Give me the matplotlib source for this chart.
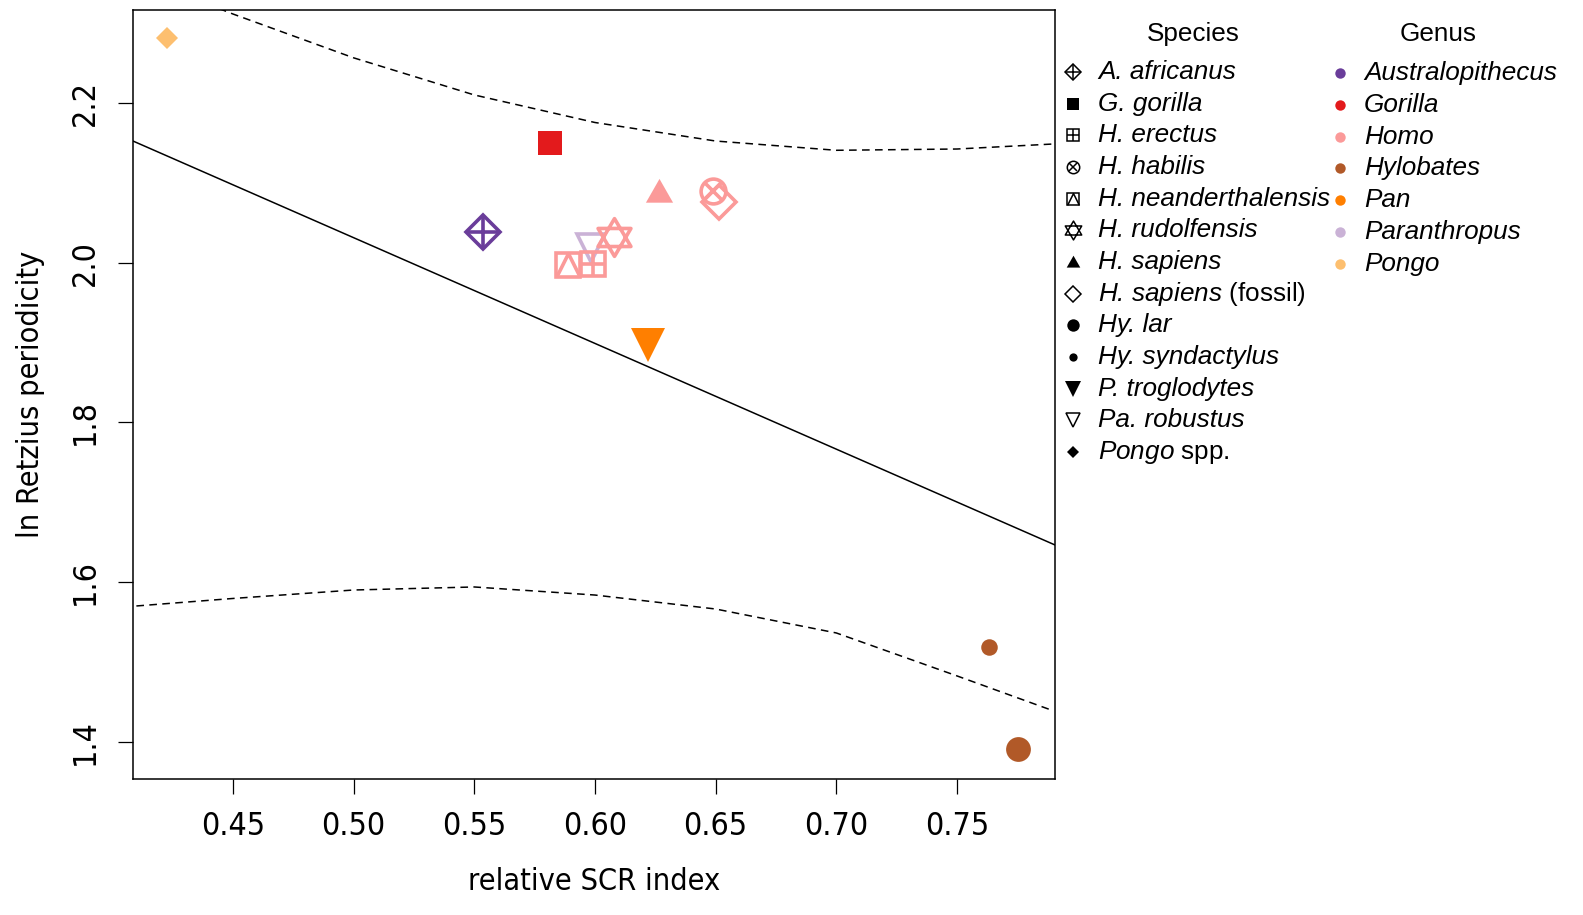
import matplotlib
matplotlib.use("Agg")
import matplotlib.pyplot as plt
from matplotlib import font_manager
from matplotlib.path import Path
import numpy as np

# fonts: the axis text in the original is a narrow sans, use one if there is one
plt.rcParams['font.family'] = ['Liberation Sans', 'DejaVu Sans']
plt.rcParams['mathtext.fontset'] = 'custom'
plt.rcParams['mathtext.rm'] = 'Liberation Sans'
plt.rcParams['mathtext.it'] = 'Liberation Sans:italic'


def find_narrow():
    entries = font_manager.fontManager.ttflist
    for want in ["Liberation Sans Narrow", "Arial Narrow", "DejaVu Sans Condensed"]:
        for f in entries:
            if f.name == want and f.style == 'normal' and f.weight in (400, 'normal', 'regular'):
                return f.fname
    for f in entries:
        if f.style == 'normal' and str(f.stretch) in ('condensed', 'semi-condensed', '600', '700') \
                and 'Bold' not in f.fname and 'Oblique' not in f.fname:
            return f.fname
    for f in entries:
        low = f.fname.lower()
        if ('narrow' in low or 'condensed' in low) and 'bold' not in low and 'oblique' not in low \
                and 'italic' not in low:
            return f.fname
    return None


narrow_file = find_narrow()
if narrow_file:
    def axis_font(size):
        return font_manager.FontProperties(fname=narrow_file, size=size)
    TICK_SIZE, LAB_SIZE = 23, 22
else:
    def axis_font(size):
        return font_manager.FontProperties(family='Liberation Sans', size=size)
    TICK_SIZE, LAB_SIZE = 19, 19

# data
species = ["A. africanus", "G. gorilla", "H. erectus", "H. habilis", "H. neanderthalensis",
           "H. rudolfensis", "H. sapiens", "H. sapiens (fossil)", "Hy. lar", "Hy. syndactylus",
           "P. troglodytes", "Pa. robustus", "Pongo spp."]
species_genus = ["Australopithecus", "Gorilla", "Homo", "Homo", "Homo", "Homo", "Homo", "Homo",
                 "Hylobates", "Hylobates", "Pan", "Paranthropus", "Pongo"]
scr_index = [0.5535, 0.5813, 0.5990, 0.6487, 0.5887, 0.6077, 0.6264, 0.6512,
             0.7754, 0.7634, 0.6218, 0.5982, 0.4227]
ln_retzius = [2.0384, 2.1499, 1.9984, 2.0898, 1.9971, 2.0322, 2.0890, 2.0760,
              1.3910, 1.5187, 1.8970, 2.0184, 2.2814]
pch = [9, 15, 12, 13, 14, 11, 17, 5, 16, 20, 25, 6, 18]
# drawing order of the points (Pa. robustus sits under the Homo symbols)
draw_order = [11, 0, 1, 2, 4, 5, 6, 7, 3, 8, 9, 10, 12]

genera = ["Australopithecus", "Gorilla", "Homo", "Hylobates", "Pan", "Paranthropus", "Pongo"]
genus_colors = ["#6A3D9A", "#E31A1C", "#FB9A99", "#B15928", "#FF7F00", "#CAB2D6", "#FDBF6F"]

# fitted line and dashed interval
fit_x = [0.4086, 0.7906]
fit_y = [2.1524, 1.6465]
band_x = [0.41, 0.45, 0.50, 0.55, 0.60, 0.65, 0.70, 0.75, 0.79]
band_upper = [2.359, 2.3115, 2.2566, 2.2101, 2.1756, 2.1524, 2.1408, 2.1424, 2.1487]
band_lower = [1.5701, 1.5795, 1.5901, 1.5939, 1.5838, 1.5663, 1.5363, 1.4825, 1.4387]

x_ticks = [0.45, 0.50, 0.55, 0.60, 0.65, 0.70, 0.75]
y_ticks = [1.4, 1.6, 1.8, 2.0, 2.2]

# R-like plotting symbols
TRI_UP = Path([(-1, -0.75), (0, 1), (1, -0.75), (-1, -0.75)], closed=True)
OPEN_TRI_IN_SQ = Path([(-1, -1), (0, 1), (1, -1)])
STAR = Path([(-1, -0.55), (0, 1.15), (1, -0.55), (-1, -0.55),
             (-1, 0.55), (0, -1.15), (1, 0.55), (-1, 0.55)],
            [Path.MOVETO, Path.LINETO, Path.LINETO, Path.CLOSEPOLY,
             Path.MOVETO, Path.LINETO, Path.LINETO, Path.CLOSEPOLY])


def draw_pch(ax, x, y, code, color, ms, lw, **kw):
    def m(marker, size, filled=False, width=lw):
        ax.plot([x], [y], marker=marker, ms=size, mew=width, mec=color,
                mfc=color if filled else 'none', ls='none', **kw)
    if code == 9:
        m('D', ms)
        m('+', ms * 1.414)
    elif code == 15:
        m('s', ms, filled=True, width=0)
    elif code == 12:
        m('s', ms)
        m('+', ms)
    elif code == 13:
        m('o', ms * 1.05)
        m('x', ms * 0.75)
    elif code == 14:
        m('s', ms)
        m(OPEN_TRI_IN_SQ, ms)
    elif code == 11:
        m(STAR, ms * 1.6)
    elif code == 17:
        m(TRI_UP, ms * 1.15, filled=True, width=0)
    elif code == 5:
        m('D', ms)
    elif code == 16:
        m('o', ms * 1.05, filled=True, width=0)
    elif code == 20:
        m('o', ms * 0.7, filled=True, width=0)
    elif code == 25:
        m('v', ms * 1.4, filled=True, width=0)
    elif code == 6:
        m('v', ms * 1.2)
    elif code == 18:
        m('D', ms * 0.66, filled=True, width=0)


fig = plt.figure(figsize=(15.83, 9.15), dpi=100)
ax = fig.add_axes([133 / 1583, 1 - 779 / 915, (1055 - 133) / 1583, (779 - 10) / 915])

ax.plot(fit_x, fit_y, color='black', lw=1.1)
ax.plot(band_x, band_upper, color='black', lw=1.1, ls=(0, (5, 3.5)))
ax.plot(band_x, band_lower, color='black', lw=1.1, ls=(0, (5, 3.5)))

for i in draw_order:
    col = genus_colors[genera.index(species_genus[i])]
    draw_pch(ax, scr_index[i], ln_retzius[i], pch[i], col, 17, 2.6)

ax.set_xlim(0.4086, 0.7906)
ax.set_ylim(1.3534, 2.3165)
ax.set_xticks(x_ticks)
ax.set_xticklabels([f"{v:.2f}" for v in x_ticks])
ax.set_yticks(y_ticks)
ax.set_yticklabels([f"{v:.1f}" for v in y_ticks], rotation=90, va='center')
ax.tick_params(direction='out', length=11, width=0.9, pad=12)
for lab in ax.get_xticklabels() + ax.get_yticklabels():
    lab.set_fontproperties(axis_font(TICK_SIZE))
for s in ax.spines.values():
    s.set_linewidth(1.1)
ax.set_xlabel("relative SCR index", fontproperties=axis_font(LAB_SIZE), labelpad=18)
ax.set_ylabel("ln Retzius periodicity", fontproperties=axis_font(LAB_SIZE), labelpad=18)

# legends, placed in figure pixels
W, H = 1583, 915
lax = fig.add_axes([0, 0, 1, 1], facecolor='none')
lax.set_xlim(0, W)
lax.set_ylim(H, 0)
lax.axis('off')

lax.text(1193, 34, "Species", fontsize=18.8, ha='center', va='center')
lax.text(1438, 34, "Genus", fontsize=18.8, ha='center', va='center')

for i, (name, code) in enumerate(zip(species, pch)):
    yy = 72 + i * 31.67
    draw_pch(lax, 1073, yy, code, 'black', 8.5, 1.1, clip_on=False)
    if name.endswith("(fossil)"):
        label = r"H. sapiens $\mathrm{(fossil)}$"
    elif name.endswith("spp."):
        label = r"Pongo $\mathrm{spp.}$"
    else:
        label = name
    lax.text(1098, yy, label, fontsize=18.8, style='italic', ha='left', va='center')

for i, (g, col) in enumerate(zip(genera, genus_colors)):
    yy = 73 + i * 31.8
    lax.plot([1340], [yy], marker='o', ms=7.5, mew=0, color=col, ls='none', clip_on=False)
    lax.text(1364, yy, g, fontsize=18.8, style='italic', ha='left', va='center')

fig.savefig("out.png", dpi=100)
